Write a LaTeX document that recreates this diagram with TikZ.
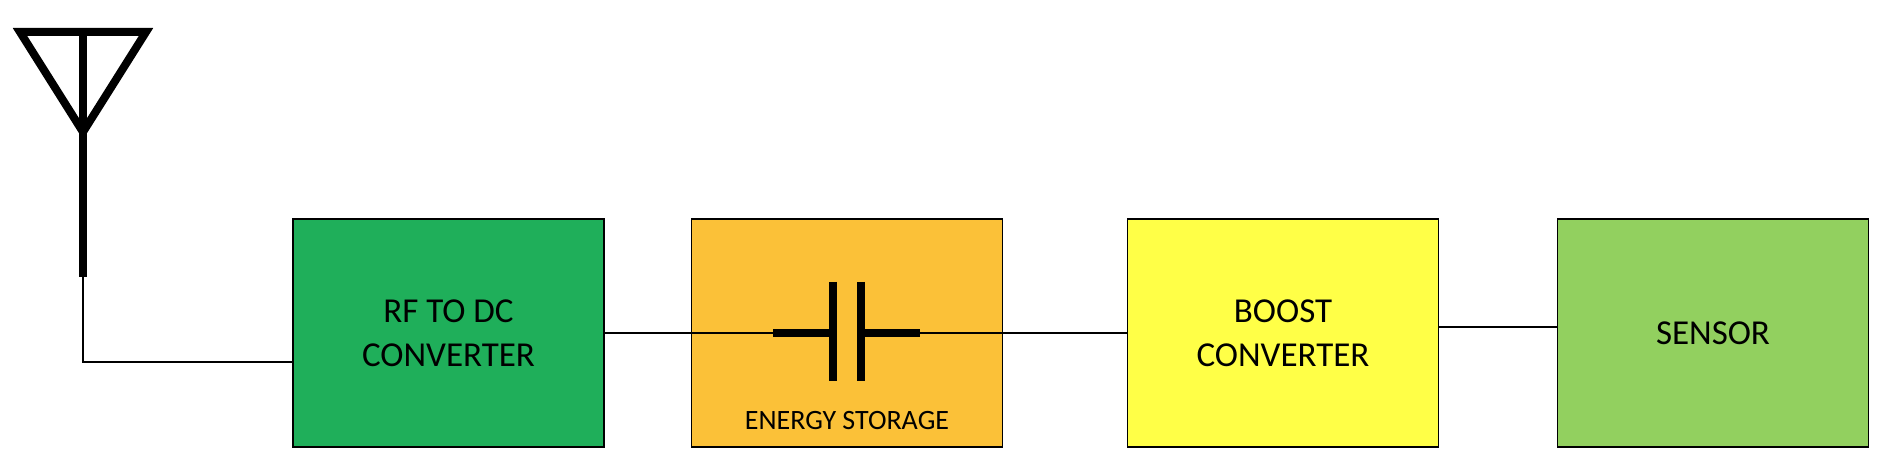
\documentclass[tikz,border=0pt]{standalone}
\usepackage{fontspec}
\setmainfont{Carlito}
\definecolor{cgreen}{HTML}{1FAF5A}
\definecolor{corange}{HTML}{FBC138}
\definecolor{cyellow}{HTML}{FFFF47}
\definecolor{clgreen}{HTML}{92D05F}
\begin{document}
\begin{tikzpicture}[x=1pt,y=-1pt,
  blk/.style={draw=black,line width=1.5pt,minimum width=311pt,minimum height=228pt,inner sep=0pt,align=center,font=\fontsize{35}{44}\selectfont},
  wire/.style={line width=1.8pt}]
\useasboundingbox (0,0) rectangle (1899,470);
\node[blk,fill=cgreen] (rf) at (448.5,333) {RF TO DC\\CONVERTER};
\node[blk,fill=corange] (es) at (847,333) {};
\node[blk,fill=cyellow] (bc) at (1283,333) {BOOST\\CONVERTER};
\node[blk,fill=clgreen] (se) at (1713,333) {SENSOR};
\node[font=\fontsize{28}{34}\selectfont] (est) at (847,421) {ENERGY STORAGE};
% antenna
\draw[line width=8pt,line join=miter] (20,32) -- (146,32) -- (83,132) -- cycle;
\draw[line width=8pt] (83,32) -- (83,277);
\coordinate (af) at (83,276);
\coordinate (ac) at (83,362);
\draw[wire] (af) -- (ac) -- (ac -| rf.west);
% capacitor
\coordinate (c1) at (833,333);
\coordinate (c2) at (861,333);
\draw[wire] (rf.east |- c1) -- (773,333);
\draw[line width=8pt] (773,333) -- (c1);
\draw[line width=8pt] (c2) -- (920,333);
\draw[wire] (920,333) -- (bc.west |- c1);
\draw[line width=8pt] (833,282) -- (833,381);
\draw[line width=8pt] (861,282) -- (861,381);
\draw[wire] (bc.east |- 0,327) -- (se.west |- 0,327);
\end{tikzpicture}
\end{document}
